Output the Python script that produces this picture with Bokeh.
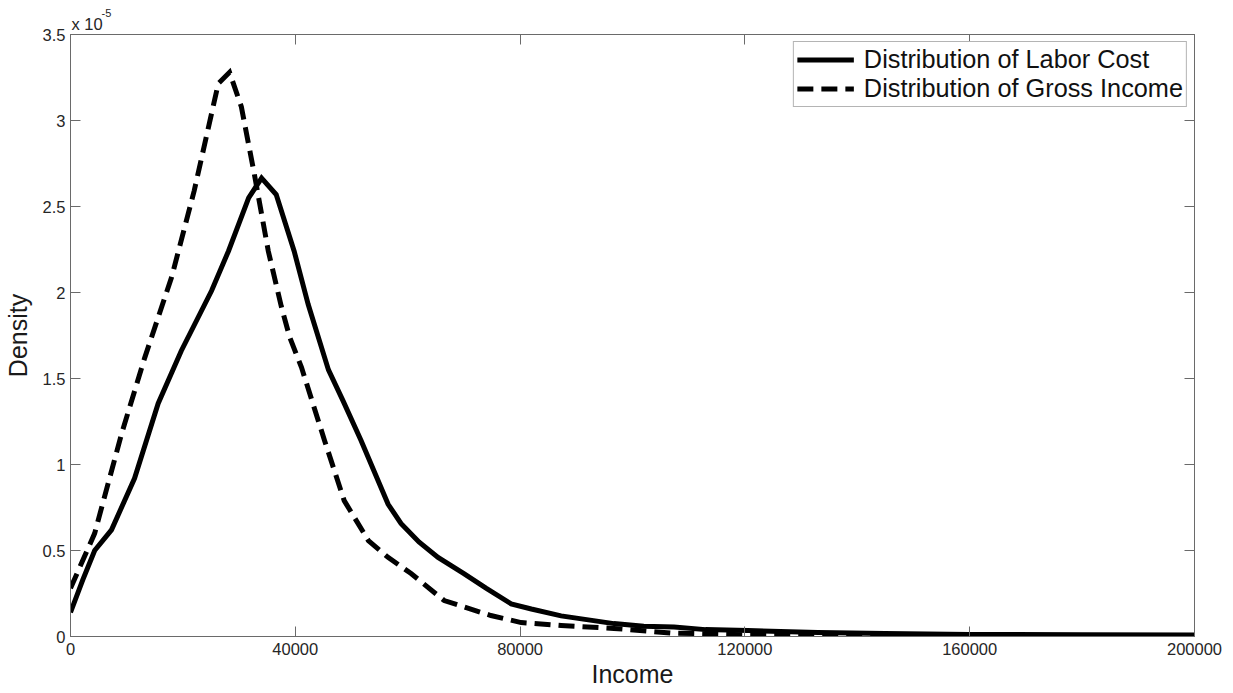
from bokeh.plotting import figure
from bokeh.models import (Range1d, FixedTicker, LinearAxis, CustomJSTickFormatter,
                          Title, Legend, LegendItem)
from bokeh.embed import file_html
from bokeh.resources import INLINE

# Kernel density estimates (density values in units of 1e-5)
labor_income = [0, 2200, 4300, 7300, 11400, 15600, 19700, 25100, 28100, 31700,
                34000, 36600, 39800, 42300, 45900, 48500, 51700, 56500, 58800,
                62000, 65400, 70000, 74000, 78400, 82000, 87300, 96700, 102000,
                107400, 113000, 120500, 133000, 145000, 160000, 180000, 200000]
labor_density = [0.14, 0.33, 0.50, 0.62, 0.92, 1.355, 1.66, 2.01, 2.24, 2.55,
                 2.665, 2.57, 2.24, 1.93, 1.55, 1.37, 1.14, 0.77, 0.657,
                 0.55, 0.46, 0.366, 0.28, 0.19, 0.16, 0.12, 0.075, 0.06,
                 0.055, 0.04, 0.035, 0.023, 0.018, 0.012, 0.01, 0.008]

gross_income = [0, 4300, 9100, 13200, 18000, 22000, 26300, 28300, 30400, 32700,
                35200, 37500, 39000, 41100, 45200, 48700, 53000, 56500, 60600,
                66500, 74800, 80200, 87300, 96700, 106800, 120000, 140000,
                160000, 200000]
gross_density = [0.28, 0.6, 1.18, 1.62, 2.09, 2.59, 3.215, 3.28, 3.08, 2.69,
                 2.24, 1.92, 1.74, 1.565, 1.14, 0.79, 0.558, 0.46, 0.366,
                 0.209, 0.122, 0.081, 0.064, 0.047, 0.02, 0.01, 0.006,
                 0.005, 0.004]

x_ticks = [0, 40000, 80000, 120000, 160000, 200000]
y_ticks = [0, 0.5, 1, 1.5, 2, 2.5, 3, 3.5]
series_names = ["Distribution of Labor Cost", "Distribution of Gross Income"]

SCALE = 1e-5
FONT = "Liberation Sans"
AXIS_GRAY = "#6a6a6a"
TEXT_COLOR = "#262626"

p = figure(width=1233, height=693,
           x_range=Range1d(0, 200000), y_range=Range1d(0, 3.5 * SCALE),
           output_backend="svg", toolbar_location=None,
           min_border_left=69, min_border_right=39,
           min_border_top=34, min_border_bottom=57,
           x_axis_label="Income", y_axis_label="Density")
p.background_fill_color = "white"
p.border_fill_color = "white"
p.outline_line_color = AXIS_GRAY
p.grid.visible = False

# box-style ticks on the top and right edges
p.add_layout(LinearAxis(), "above")
p.add_layout(LinearAxis(), "right")

x_fmt = CustomJSTickFormatter(code="return tick.toFixed(0);")
y_fmt = CustomJSTickFormatter(code="var v = Math.round(tick * 1e6) / 10; return String(v);")
blank = CustomJSTickFormatter(code="return '';")

for ax in p.xaxis:
    ax.ticker = FixedTicker(ticks=x_ticks)
for ax in p.yaxis:
    ax.ticker = FixedTicker(ticks=[t * SCALE for t in y_ticks])

p.below[0].formatter = x_fmt
p.left[0].formatter = y_fmt

for ax in p.axis:
    ax.axis_line_color = AXIS_GRAY
    ax.major_tick_line_color = AXIS_GRAY
    ax.major_tick_in = 10
    ax.major_tick_out = 0
    ax.minor_tick_line_color = None
    ax.major_label_text_font = FONT
    ax.major_label_text_font_size = "16.5px"
    ax.major_label_text_color = TEXT_COLOR
    ax.axis_label_text_font = FONT
    ax.axis_label_text_font_size = "25px"
    ax.axis_label_text_font_style = "normal"
    ax.axis_label_text_color = "#1a1a1a"

for ax in (p.above[0], p.right[0]):
    ax.formatter = blank
    ax.major_label_text_font_size = "0px"
    ax.major_label_standoff = 0

p.below[0].major_label_standoff = 6
p.below[0].axis_label_standoff = 2
p.left[0].major_label_standoff = 5
p.left[0].axis_label_standoff = 8

labor_y = [v * SCALE for v in labor_density]
gross_y = [v * SCALE for v in gross_density]

r_labor = p.line(labor_income, labor_y, line_width=5, line_color="black",
                 line_join="miter")
r_gross = p.line(gross_income, gross_y, line_width=5, line_color="black",
                 line_dash="16 8", line_join="miter")

legend = Legend(items=[LegendItem(label=series_names[0], renderers=[r_labor]),
                       LegendItem(label=series_names[1], renderers=[r_gross])],
                location="top_right", margin=7, padding=3, spacing=0,
                glyph_width=57, glyph_height=27, label_height=27,
                label_standoff=10,
                label_text_font=FONT, label_text_font_size="25.3px",
                label_text_color="#111111",
                border_line_color=AXIS_GRAY, border_line_width=1,
                background_fill_color="white", background_fill_alpha=1.0)
p.add_layout(legend)

# exponent marker for the density axis, stacked above the frame
p.add_layout(Title(text="x 10", align="left", offset=1, standoff=3,
                   text_font=FONT, text_font_size="16.5px",
                   text_font_style="normal", text_color=TEXT_COLOR), "above")
p.add_layout(Title(text="-5", align="left", offset=31, standoff=-11,
                   text_font=FONT, text_font_size="11px",
                   text_font_style="normal", text_color=TEXT_COLOR), "above")

open("out.html", "w").write(file_html(p, INLINE))
